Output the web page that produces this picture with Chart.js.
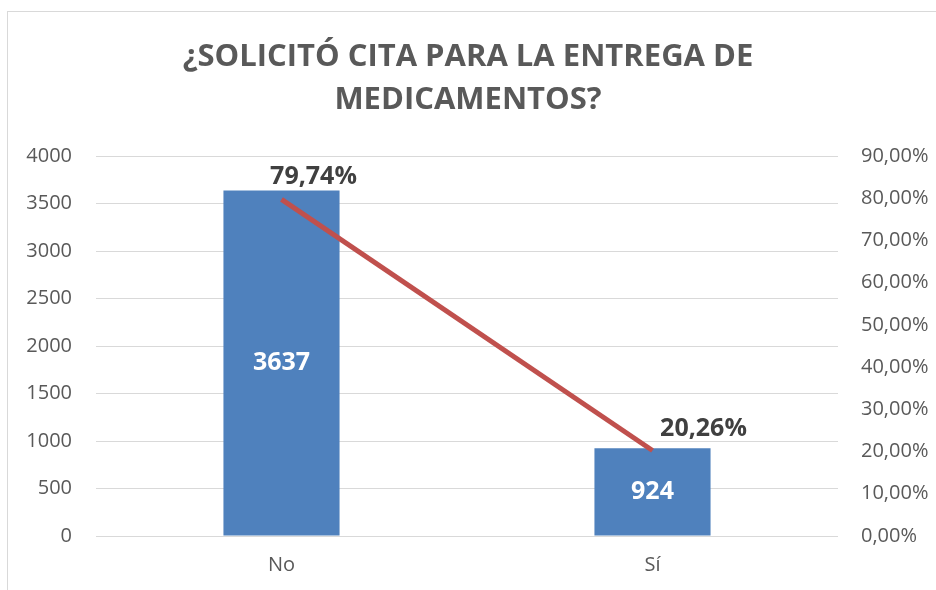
<!DOCTYPE html>
<html>
<head>
<meta charset="utf-8">
<script src="https://cdn.jsdelivr.net/npm/chart.js@4/dist/chart.umd.min.js"></script>
<style>
  html, body { margin: 0; padding: 0; background: #fff; overflow: hidden; }
  #frame { position: absolute; left: 7px; top: 11px; width: 1000px; height: 700px; border: 1px solid #d9d9d9; }
  #wrap { position: absolute; left: 0; top: 0; width: 936px; height: 590px; }
</style>
</head>
<body>
<div id="frame"></div>
<div id="wrap"><canvas id="c" width="936" height="590"></canvas></div>
<script>
const categories = ["No", "Sí"];
const counts = [3637, 924];
const percents = [79.74, 20.26];
const titleLines = ["¿SOLICITÓ CITA PARA LA ENTREGA DE", "MEDICAMENTOS?"];

const fmtPct = v => v.toFixed(2).replace('.', ',') + '%';

const labelPlugin = {
  id: 'labels',
  afterDatasetsDraw(chart) {
    const ctx = chart.ctx;
    ctx.save();
    ctx.textAlign = 'center';
    ctx.textBaseline = 'middle';
    const barMeta = chart.getDatasetMeta(0);
    ctx.font = 'bold 25px "Open Sans"';
    ctx.fillStyle = '#ffffff';
    barMeta.data.forEach((el, i) => {
      const y = (el.y + el.base) / 2;
      ctx.fillText(String(counts[i]), el.x, y);
    });
    const lineMeta = chart.getDatasetMeta(1);
    const offs = [[32, -22], [51, -22]];
    ctx.font = 'bold 25px "Open Sans"';
    ctx.fillStyle = '#404040';
    lineMeta.data.forEach((el, i) => {
      ctx.fillText(fmtPct(percents[i]), el.x + offs[i][0], el.y + offs[i][1]);
    });
    ctx.restore();
  }
};

new Chart(document.getElementById('c'), {
  data: {
    labels: categories,
    datasets: [
      {
        type: 'bar',
        data: counts,
        backgroundColor: '#4F81BD',
        yAxisID: 'y',
        barPercentage: 0.313,
        categoryPercentage: 1,
        order: 2
      },
      {
        type: 'line',
        data: percents,
        borderColor: '#C0504D',
        borderWidth: 5,
        pointRadius: 0,
        yAxisID: 'y1',
        order: 1
      }
    ]
  },
  options: {
    responsive: false,
    animation: false,
    layout: { padding: 0 },
    plugins: {
      legend: { display: false },
      tooltip: { enabled: false },
      title: {
        display: true,
        text: titleLines,
        color: '#595959',
        font: { family: '"Open Sans"', size: 31, weight: 'bold', lineHeight: '43px' },
        padding: { top: 36, bottom: 34 }
      }
    },
    scales: {
      x: {
        grid: { display: false, drawTicks: false },
        border: { display: false },
        ticks: { color: '#595959', font: { family: '"Open Sans"', size: 20 }, padding: 17 },
        afterFit(s) { s.height = 54; }
      },
      y: {
        position: 'left',
        min: 0, max: 4000,
        ticks: { stepSize: 500, color: '#595959', font: { family: '"Open Sans"', size: 20 }, padding: 24, callback: v => String(v) },
        grid: { color: '#d9d9d9', lineWidth: 1, drawTicks: false },
        border: { display: false },
        afterFit(s) { s.width = 96; }
      },
      y1: {
        position: 'right',
        min: 0, max: 90,
        ticks: { stepSize: 10, color: '#595959', font: { family: '"Open Sans"', size: 20 }, padding: 23, callback: v => fmtPct(v) },
        grid: { display: false, drawTicks: false },
        border: { display: false },
        afterFit(s) { s.width = 98; }
      }
    }
  },
  plugins: [labelPlugin]
});
</script>
</body>
</html>
